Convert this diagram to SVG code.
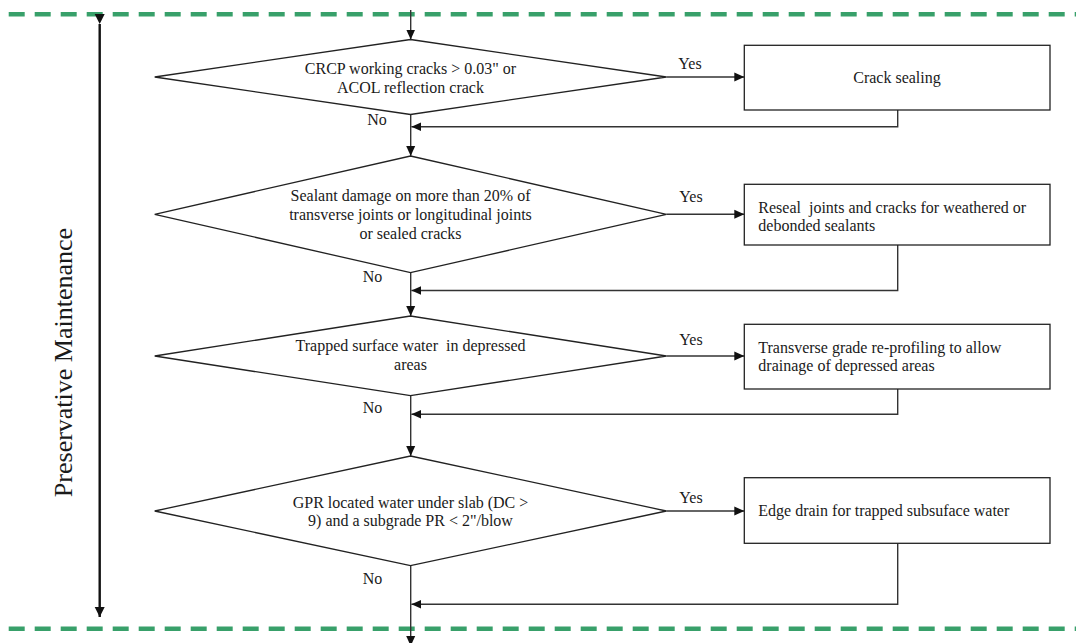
<svg xmlns="http://www.w3.org/2000/svg" width="1076" height="643" viewBox="0 0 1076 643">
<style>
  .shape { fill: #ffffff; stroke: #222222; stroke-width: 1.3; }
  .conn { fill: none; stroke: #333333; stroke-width: 1.4; }
  .txt { font-family: "Liberation Serif", "Times New Roman", serif; font-size: 16px; fill: #1a1a1a; }
  .mid { text-anchor: middle; }
  .green { stroke: #38a06a; stroke-width: 4.5; stroke-dasharray: 16 10; fill: none; }
  .bar { stroke: #111111; stroke-width: 2.4; fill: none; }
  .title { font-family: "Liberation Serif", "Times New Roman", serif; font-size: 26px; fill: #1a1a1a; text-anchor: middle; }
</style>
<defs>
  <marker id="arr" markerUnits="userSpaceOnUse" markerWidth="11" markerHeight="10" refX="10" refY="5" orient="auto">
    <path d="M0,0.5 L10,5 L0,9.5 Z" fill="#111111"/>
  </marker>
  <marker id="arrBig" markerUnits="userSpaceOnUse" markerWidth="11" markerHeight="11" refX="10" refY="5.5" orient="auto">
    <path d="M0,0.5 L10,5.5 L0,10.5 Z" fill="#111111"/>
  </marker>
</defs>
<rect width="1076" height="643" fill="#ffffff"/>

<g id="band">
  <line class="green" x1="8.7" y1="14.3" x2="1076" y2="14.3"/>
  <line class="green" x1="8.7" y1="628.7" x2="1076" y2="628.7"/>
  <line class="bar" x1="99.7" y1="24" x2="99.7" y2="617" marker-start="url(#arrBig)" marker-end="url(#arrBig)"/>
  <text class="title" transform="translate(71.5,362.5) rotate(-90)">Preservative Maintenance</text>
</g>

<g id="connectors">
  <line class="conn" x1="410.7" y1="10" x2="410.7" y2="39.5" marker-end="url(#arr)"/>
  <line class="conn" x1="410.7" y1="114.5" x2="410.7" y2="156" marker-end="url(#arr)"/>
  <line class="conn" x1="410.7" y1="272.7" x2="410.7" y2="316" marker-end="url(#arr)"/>
  <line class="conn" x1="410.7" y1="395.7" x2="410.7" y2="456" marker-end="url(#arr)"/>
  <line class="conn" x1="410.7" y1="565.7" x2="410.7" y2="646" marker-end="url(#arr)"/>
  <line class="conn" x1="666.4" y1="77" x2="744.3" y2="77" marker-end="url(#arr)"/>
  <line class="conn" x1="666.4" y1="214.3" x2="744.3" y2="214.3" marker-end="url(#arr)"/>
  <line class="conn" x1="666.4" y1="356" x2="744.3" y2="356" marker-end="url(#arr)"/>
  <line class="conn" x1="666.4" y1="511" x2="744.3" y2="511" marker-end="url(#arr)"/>
  <polyline class="conn" points="897.7,110 897.7,126.7 411.4,126.7" marker-end="url(#arr)"/>
  <polyline class="conn" points="897.7,245 897.7,290.5 411.4,290.5" marker-end="url(#arr)"/>
  <polyline class="conn" points="897.7,389 897.7,414.2 411.4,414.2" marker-end="url(#arr)"/>
  <polyline class="conn" points="897.7,543.3 897.7,604.3 411.4,604.3" marker-end="url(#arr)"/>
  <text class="txt mid" x="690" y="69">Yes</text>
  <text class="txt mid" x="691" y="201.5">Yes</text>
  <text class="txt mid" x="691" y="345">Yes</text>
  <text class="txt mid" x="691" y="502.5">Yes</text>
  <text class="txt mid" x="377" y="125">No</text>
  <text class="txt mid" x="372.5" y="281.5">No</text>
  <text class="txt mid" x="372.5" y="413">No</text>
  <text class="txt mid" x="372.5" y="584">No</text>
</g>

<g id="d1">
  <polygon class="shape" points="410.5,39.5 666.4,77 410.5,114.5 154.7,77"/>
  <text class="txt mid" x="410.5" y="73.5">CRCP working cracks &gt; 0.03" or</text>
  <text class="txt mid" x="410.5" y="92.5">ACOL reflection crack</text>
</g>
<g id="b1">
  <rect class="shape" x="744.3" y="45.3" width="305.7" height="64.7"/>
  <text class="txt mid" x="897" y="82.5">Crack sealing</text>
</g>

<g id="d2">
  <polygon class="shape" points="410.5,156 666.4,214.3 410.5,272.7 154.7,214.3"/>
  <text class="txt mid" x="410.5" y="201">Sealant damage on more than 20% of</text>
  <text class="txt mid" x="410.5" y="220">transverse joints or longitudinal joints</text>
  <text class="txt mid" x="410.5" y="238.5">or sealed cracks</text>
</g>
<g id="b2">
  <rect class="shape" x="744.3" y="184.3" width="305.7" height="60.7"/>
  <text class="txt" x="758.3" y="212.5" xml:space="preserve">Reseal  joints and cracks for weathered or</text>
  <text class="txt" x="758.3" y="230.5">debonded sealants</text>
</g>

<g id="d3">
  <polygon class="shape" points="410.5,316 666.4,356 410.5,395.7 154.7,356"/>
  <text class="txt mid" x="410.5" y="351" xml:space="preserve">Trapped surface water  in depressed</text>
  <text class="txt mid" x="410.5" y="370">areas</text>
</g>
<g id="b3">
  <rect class="shape" x="744.3" y="324.3" width="305.7" height="64.7"/>
  <text class="txt" x="758.3" y="352.5">Transverse grade re-profiling to allow</text>
  <text class="txt" x="758.3" y="371">drainage of depressed areas</text>
</g>

<g id="d4">
  <polygon class="shape" points="410.5,456 666.4,511 410.5,565.7 154.7,511"/>
  <text class="txt mid" x="410.5" y="507.5">GPR located water under slab (DC &gt;</text>
  <text class="txt mid" x="410.5" y="526">9) and a subgrade PR &lt; 2"/blow</text>
</g>
<g id="b4">
  <rect class="shape" x="744.3" y="477.7" width="305.7" height="65.6"/>
  <text class="txt" x="758.3" y="516">Edge drain for trapped subsuface water</text>
</g>
</svg>
